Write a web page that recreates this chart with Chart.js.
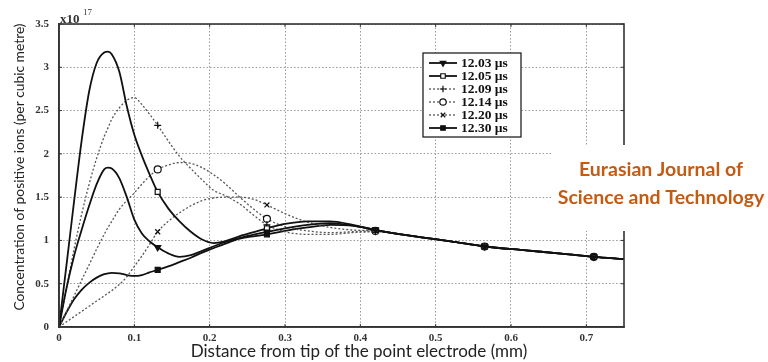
<!DOCTYPE html>
<html lang="en">
<head>
<meta charset="UTF-8">
<title>Positive ion concentration</title>
<script src="https://cdn.jsdelivr.net/npm/chart.js@4.4.1/dist/chart.umd.min.js"></script>
<style>
  html, body { margin: 0; padding: 0; background: #fff; }
  #wrap { width: 768px; height: 362px; }
</style>
</head>
<body>
<div id="wrap"><canvas id="ionChart" width="768" height="362"></canvas></div>
<script>
// distance from the tip of the point electrode (mm), shared by all curves
const distance = [0, 0.01, 0.02, 0.03, 0.04, 0.05, 0.06, 0.065, 0.07, 0.08, 0.09, 0.1,
  0.11, 0.12, 0.131, 0.145, 0.16, 0.175, 0.19, 0.205, 0.22, 0.24, 0.26, 0.276,
  0.3, 0.33, 0.36, 0.39, 0.42, 0.47, 0.52, 0.565, 0.62, 0.67, 0.71, 0.75];

// concentration of positive ions, units of 1e17 per cubic metre
const ions1203 = [0, 0.45, 0.82, 1.12, 1.4, 1.65, 1.82, 1.84, 1.83, 1.72, 1.5, 1.24,
  1.08, 0.99, 0.92, 0.85, 0.81, 0.83, 0.88, 0.93, 0.98, 1.03, 1.07, 1.1,
  1.14, 1.18, 1.2, 1.17, 1.12, 1.05, 0.99, 0.93, 0.885, 0.845, 0.81, 0.785];
const ions1205 = [0, 0.72, 1.45, 2.15, 2.72, 3.05, 3.17, 3.18, 3.15, 2.95, 2.55, 2.22,
  1.98, 1.77, 1.56, 1.37, 1.22, 1.1, 1.01, 0.97, 0.99, 1.05, 1.1, 1.14,
  1.19, 1.22, 1.22, 1.18, 1.12, 1.05, 0.99, 0.93, 0.885, 0.845, 0.81, 0.785];
const ions1209 = [0, 0.45, 0.9, 1.3, 1.65, 1.95, 2.2, 2.3, 2.4, 2.53, 2.62, 2.65,
  2.57, 2.46, 2.33, 2.15, 1.97, 1.83, 1.7, 1.58, 1.52, 1.42, 1.28, 1.18,
  1.1, 1.07, 1.07, 1.09, 1.1, 1.05, 0.99, 0.93, 0.885, 0.845, 0.81, 0.785];
const ions1214 = [0, 0.18, 0.36, 0.54, 0.72, 0.9, 1.07, 1.15, 1.22, 1.36, 1.46, 1.55,
  1.65, 1.74, 1.82, 1.87, 1.9, 1.89, 1.84, 1.76, 1.66, 1.5, 1.35, 1.25,
  1.16, 1.11, 1.09, 1.1, 1.11, 1.05, 0.99, 0.93, 0.885, 0.845, 0.81, 0.785];
const ions1220 = [0, 0.06, 0.12, 0.18, 0.24, 0.3, 0.36, 0.39, 0.42, 0.49, 0.58, 0.7,
  0.82, 0.95, 1.1, 1.22, 1.32, 1.4, 1.46, 1.49, 1.5, 1.5, 1.47, 1.41,
  1.31, 1.21, 1.15, 1.12, 1.11, 1.05, 0.99, 0.93, 0.885, 0.845, 0.81, 0.785];
const ions1230 = [0, 0.17, 0.32, 0.43, 0.51, 0.57, 0.61, 0.62, 0.625, 0.62, 0.6, 0.59,
  0.6, 0.63, 0.66, 0.7, 0.75, 0.8, 0.86, 0.91, 0.96, 1.02, 1.05, 1.07,
  1.11, 1.15, 1.18, 1.17, 1.12, 1.05, 0.99, 0.93, 0.885, 0.845, 0.81, 0.785];

const seriesLabels = ['12.03 \u00b5s', '12.05 \u00b5s', '12.09 \u00b5s', '12.14 \u00b5s', '12.20 \u00b5s', '12.30 \u00b5s'];
const markerDistances = [0.131, 0.276, 0.42, 0.565, 0.71];
const xTickValues = [0, 0.1, 0.2, 0.3, 0.4, 0.5, 0.6, 0.7];
const yTickValues = [0, 0.5, 1, 1.5, 2, 2.5, 3, 3.5];

// line + marker look of each curve
const looks = [
  { dashed: false, pointStyle: 'triangle', rotation: 180, fill: '#111' },
  { dashed: false, pointStyle: 'rect', rotation: 0, fill: '#fff' },
  { dashed: true,  pointStyle: 'cross', rotation: 0, fill: '#111' },
  { dashed: true,  pointStyle: 'circle', rotation: 0, fill: '#fff' },
  { dashed: true,  pointStyle: 'crossRot', rotation: 0, fill: '#111' },
  { dashed: false, pointStyle: 'rect', rotation: 0, fill: '#111' }
];
const allSeries = [ions1203, ions1205, ions1209, ions1214, ions1220, ions1230];

const datasets = allSeries.map((vals, k) => {
  const lk = looks[k];
  return {
    label: seriesLabels[k],
    data: distance.map((d, i) => ({ x: d, y: vals[i] })),
    borderColor: lk.dashed ? '#555' : '#111',
    borderWidth: lk.dashed ? 1.3 : 1.8,
    borderDash: lk.dashed ? [2, 2] : [],
    cubicInterpolationMode: 'monotone',
    pointStyle: lk.pointStyle,
    pointRotation: lk.rotation,
    pointBackgroundColor: lk.fill,
    pointBorderColor: '#111',
    pointBorderWidth: 1.2,
    pointRadius: ctx => markerDistances.includes(distance[ctx.dataIndex]) ? 3.5 : 0,
    pointHoverRadius: 0
  };
});

function seg(ctx, x1, y1, x2, y2) {
  ctx.beginPath(); ctx.moveTo(x1, y1); ctx.lineTo(x2, y2); ctx.stroke();
}

const decorations = {
  id: 'decorations',
  afterDraw(chart) {
    const { ctx, chartArea: a, scales: { x, y } } = chart;
    ctx.save();

    // axes box
    ctx.strokeStyle = '#333';
    ctx.lineWidth = 1.6;
    ctx.strokeRect(a.left, a.top, a.right - a.left, a.bottom - a.top);

    // small inward tick marks
    ctx.lineWidth = 1;
    x.ticks.forEach(t => {
      const px = x.getPixelForValue(t.value);
      seg(ctx, px, a.top, px, a.top + 3);
      seg(ctx, px, a.bottom, px, a.bottom - 3);
    });
    y.ticks.forEach(t => {
      const py = y.getPixelForValue(t.value);
      seg(ctx, a.left, py, a.left + 3, py);
      seg(ctx, a.right, py, a.right - 3, py);
    });

    // exponent above the y axis
    ctx.fillStyle = '#333';
    ctx.textBaseline = 'alphabetic';
    ctx.textAlign = 'left';
    ctx.font = 'bold 13px "Liberation Serif"';
    ctx.fillText('x10', a.left + 1, a.top - 1);
    ctx.font = '9px "Liberation Serif"';
    ctx.fillText('17', a.left + 24, a.top - 9);

    // axis titles
    ctx.fillStyle = '#222';
    ctx.textAlign = 'center';
    ctx.textBaseline = 'middle';
    ctx.font = '17px Lato';
    ctx.fillText('Distance from tip of the point electrode (mm)', 359, 352);
    ctx.save();
    ctx.translate(20, 167);
    ctx.rotate(-Math.PI / 2);
    ctx.font = '13.8px Lato';
    ctx.fillText('Concentration of positive ions (per cubic metre)', 0, 0);
    ctx.restore();

    // legend
    const lx = 423, ly = 53, lw = 98, lh = 84;
    ctx.fillStyle = '#fff';
    ctx.fillRect(lx, ly, lw, lh);
    ctx.strokeStyle = '#222';
    ctx.lineWidth = 1.3;
    ctx.strokeRect(lx, ly, lw, lh);
    ctx.font = 'bold 13.5px "Liberation Serif"';
    ctx.textAlign = 'left';
    datasets.forEach((ds, k) => {
      const lk = looks[k];
      const ry = ly + 10 + k * 13;
      ctx.strokeStyle = ds.borderColor;
      ctx.lineWidth = ds.borderWidth;
      ctx.setLineDash(ds.borderDash);
      seg(ctx, lx + 6, ry, lx + 34, ry);
      ctx.setLineDash([]);
      ctx.fillStyle = lk.fill;
      ctx.strokeStyle = '#111';
      ctx.lineWidth = 1.2;
      Chart.helpers.drawPoint(ctx, { pointStyle: lk.pointStyle, radius: 3.2, rotation: lk.rotation, borderWidth: 1.2 }, lx + 20, ry);
      ctx.fillStyle = '#111';
      ctx.fillText(ds.label, lx + 38, ry + 1);
    });

    // journal mark
    ctx.fillStyle = '#fff';
    ctx.fillRect(552, 145, 216, 86);
    ctx.fillStyle = '#c55a11';
    ctx.textAlign = 'center';
    ctx.font = 'bold 19.5px Lato';
    ctx.fillText('Eurasian Journal of', 661, 170);
    ctx.fillText('Science and Technology', 661, 198);

    ctx.restore();
  }
};

new Chart(document.getElementById('ionChart'), {
  type: 'line',
  data: { datasets },
  plugins: [decorations],
  options: {
    responsive: false,
    animation: false,
    devicePixelRatio: 1,
    layout: { padding: { left: 0, top: 24, right: 144, bottom: 0 } },
    plugins: { legend: { display: false }, tooltip: { enabled: false } },
    scales: {
      x: {
        type: 'linear',
        min: 0,
        max: 0.75,
        afterBuildTicks: s => { s.ticks = xTickValues.map(v => ({ value: v })); },
        afterFit: s => { s.height = 35; },
        grid: { color: '#999', lineWidth: 1, drawTicks: false },
        border: { display: true, color: '#333', width: 1.6, dash: [1.5, 2] },
        ticks: {
          padding: 5,
          color: '#333',
          font: { family: 'Liberation Serif', weight: 'bold', size: 11 },
          callback: v => String(v)
        }
      },
      y: {
        min: 0,
        max: 3.5,
        afterBuildTicks: s => { s.ticks = yTickValues.map(v => ({ value: v })); },
        afterFit: s => { s.width = 59; },
        grid: { color: '#999', lineWidth: 1, drawTicks: false },
        border: { display: true, color: '#333', width: 1.6, dash: [1.5, 2] },
        ticks: {
          padding: 10,
          color: '#333',
          font: { family: 'Liberation Serif', weight: 'bold', size: 11 },
          callback: v => String(v)
        }
      }
    }
  }
});
</script>
</body>
</html>
